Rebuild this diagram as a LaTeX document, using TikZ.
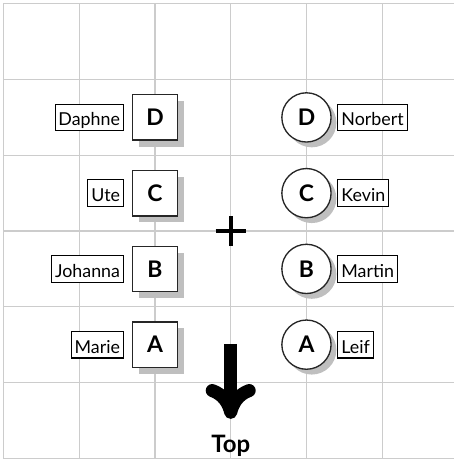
\documentclass[tikz,border=0pt]{standalone}
\usepackage{fontspec}
\setmainfont{Lato}
\usetikzlibrary{shadows,arrows.meta}
\begin{document}
\begin{tikzpicture}[
  gridline/.style={draw=black!20, line width=0.4pt},
  sqnode/.style={draw=black!85, line width=0.5pt, fill=white, minimum size=0.6cm, inner sep=0pt,
    font=\fontsize{8.6}{10}\selectfont\bfseries,
    drop shadow={shadow xshift=0.085cm, shadow yshift=-0.085cm, fill=black!25, opacity=1}},
  cirnode/.style={circle, draw=black!85, line width=0.5pt, fill=white, minimum size=0.65cm, inner sep=0pt,
    font=\fontsize{8.6}{10}\selectfont\bfseries,
    drop shadow={shadow xshift=0.07cm, shadow yshift=-0.07cm, fill=black!25, opacity=1}},
  namebox/.style={draw=black, line width=0.4pt, fill=white, inner xsep=1.3pt, inner ysep=0pt,
    minimum height=0.352cm, text height=1.6ex, text depth=0.35ex,
    font=\fontsize{6.7}{8}\selectfont},
]
\useasboundingbox (-3.046,-3.023) rectangle (2.944,3.05);
% grid
\foreach \y in {-3,...,3} \draw[gridline] (-3,\y) -- (2.944,\y);
\foreach \x in {-3,...,2} \draw[gridline] (\x,-3) -- (\x,3);
% plus
\coordinate (pr) at (0.2,0);
\coordinate (pll) at (-0.2,0);
\coordinate (pt) at (0,0.2);
\coordinate (pb) at (0,-0.2);
\draw[line width=1.6pt] (pll) -- (pr);
\draw[line width=1.6pt] (pb) -- (pt);
% squares
\node[sqnode] (sD) at (-1,1.5) {D};
\node[sqnode] (sC) at (-1,0.5) {C};
\node[sqnode] (sB) at (-1,-0.5) {B};
\node[sqnode] (sA) at (-1,-1.5) {A};
\node[namebox, anchor=east] (nD) at ([xshift=-0.1cm]sD.west) {Daphne};
\node[namebox, anchor=east] (nC) at ([xshift=-0.1cm]sC.west) {Ute};
\node[namebox, anchor=east] (nB) at ([xshift=-0.1cm]sB.west) {Johanna};
\node[namebox, anchor=east] (nA) at ([xshift=-0.1cm]sA.west) {Marie};
% circles
\node[cirnode] (cD) at (1,1.5) {D};
\node[cirnode] (cC) at (1,0.5) {C};
\node[cirnode] (cB) at (1,-0.5) {B};
\node[cirnode] (cA) at (1,-1.5) {A};
\node[namebox, anchor=west] (mD) at ([xshift=0.075cm]cD.east) {Norbert};
\node[namebox, anchor=west] (mC) at ([xshift=0.075cm]cC.east) {Kevin};
\node[namebox, anchor=west] (mB) at ([xshift=0.075cm]cB.east) {Martin};
\node[namebox, anchor=west] (mA) at ([xshift=0.075cm]cA.east) {Leif};
% arrow and Top
\coordinate (as) at (0,-1.49);
\coordinate (ae) at (0,-2.48);
\draw[line width=4.9pt, -{To[round, length=0.46cm, width=0.66cm]}] (as) -- (ae);
\node[font=\fontsize{9}{11}\selectfont\bfseries] (top) at (0,-2.83) {Top};
\end{tikzpicture}
\end{document}
